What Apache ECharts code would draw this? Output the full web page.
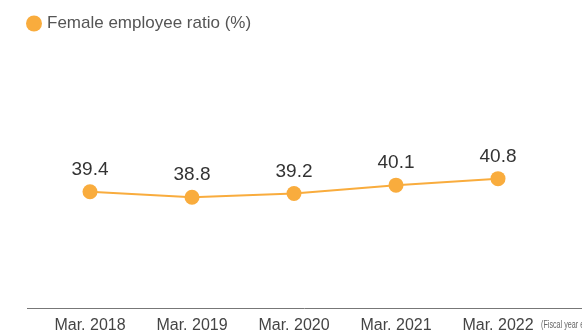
<!DOCTYPE html>
<html>
<head>
<meta charset="utf-8">
<script src="https://cdn.jsdelivr.net/npm/echarts@6/dist/echarts.min.js"></script>
<style>html,body{margin:0;padding:0;background:#fff}#c{width:582px;height:334px}</style>
</head>
<body>
<div id="c"></div>
<script>
const categories = ["Mar. 2018", "Mar. 2019", "Mar. 2020", "Mar. 2021", "Mar. 2022"];
const femaleRatio = [39.4, 38.8, 39.2, 40.1, 40.8];
const seriesName = "Female employee ratio (%)";
const noteText = "(Fiscal year end)";

const chart = echarts.init(document.getElementById('c'), null, {renderer: 'canvas'});
const orange = '#F9AC3D';
chart.setOption({
  animation: false,
  textStyle: {fontFamily: 'Liberation Sans, Arial, sans-serif'},
  legend: {
    left: 21, top: 10,
    itemWidth: 16, itemHeight: 16, itemGap: 6,
    icon: 'circle',
    textStyle: {fontSize: 17, color: '#555', fontFamily: 'Liberation Sans, Arial, sans-serif'},
    data: [seriesName]
  },
  grid: {left: 39, right: 33, top: 28, bottom: 26},
  xAxis: {
    type: 'category', data: categories, boundaryGap: true,
    axisLine: {show: false}, axisTick: {show: false},
    axisLabel: {color: '#444', fontSize: 16, margin: 11}
  },
  yAxis: {type: 'value', min: 27, max: 57, show: false, splitLine: {show: false}},
  graphic: [
    {type: 'line', shape: {x1: 27, y1: 308.5, x2: 582, y2: 308.5}, style: {stroke: '#777', lineWidth: 1}},
    {type: 'text', x: 541, y: 320, scaleX: 0.72, style: {text: noteText, fontSize: 10, fill: '#666', fontFamily: 'Liberation Sans, sans-serif'}}
  ],
  series: [{
    name: seriesName, type: 'line', data: femaleRatio,
    symbol: 'circle', symbolSize: 15,
    itemStyle: {color: orange},
    lineStyle: {color: orange, width: 2},
    label: {show: true, position: 'top', distance: 5, fontSize: 19, color: '#333'}
  }]
});
</script>
</body>
</html>
